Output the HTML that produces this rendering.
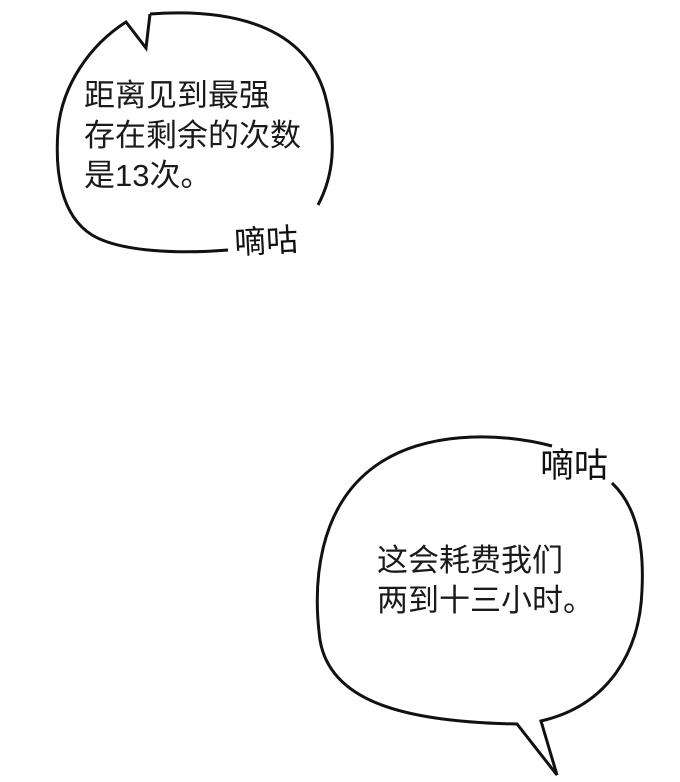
<!DOCTYPE html>
<html><head><meta charset="utf-8"><style>
html,body{margin:0;padding:0;background:#fff;}
svg{display:block}
</style></head><body>
<svg width="680" height="782" viewBox="0 0 680 782" xmlns="http://www.w3.org/2000/svg">
<rect width="680" height="782" fill="#fff"/>
<!-- bubble 1 -->
<path d="M150,14 C230,8 305,25 325,95 C337,140 334,175 318,205" fill="none" stroke="#111" stroke-width="3"/>
<path d="M228,250 C180,254 120,252 92,235 C60,215 55,170 58,130 C62,85 90,45 126,22 L146,48 L150,14" fill="none" stroke="#111" stroke-width="3" stroke-linejoin="miter"/>
<g font-family="'Liberation Sans','Noto Sans CJK SC',sans-serif" font-size="31" fill="#1a1a1a">
<text x="84" y="106">距离见到最强</text>
<text x="84" y="146">存在剩余的次数</text>
<text x="84" y="186">是13次。</text>
</g>
<text x="234" y="252" font-family="'WenQuanYi Zen Hei','Noto Sans CJK SC',sans-serif" font-size="32" fill="#111" transform="rotate(-3 270 240)">嘀咕</text>
<!-- bubble 2 -->
<path d="M552,446 C500,432 420,430 370,470 C320,510 312,580 320,640 C330,700 400,722 517,724 L557,775 L541,721 C610,705 640,650 642,590 C645,530 630,500 612,483" fill="none" stroke="#111" stroke-width="3" stroke-linejoin="miter"/>
<g font-family="'Liberation Sans','Noto Sans CJK SC',sans-serif" font-size="31" fill="#1a1a1a">
<text x="377" y="571">这会耗费我们</text>
<text x="377" y="611">两到十三小时。</text>
</g>
<text x="540" y="477" font-family="'WenQuanYi Zen Hei','Noto Sans CJK SC',sans-serif" font-size="34" fill="#111">嘀咕</text>
</svg>
</body></html>
